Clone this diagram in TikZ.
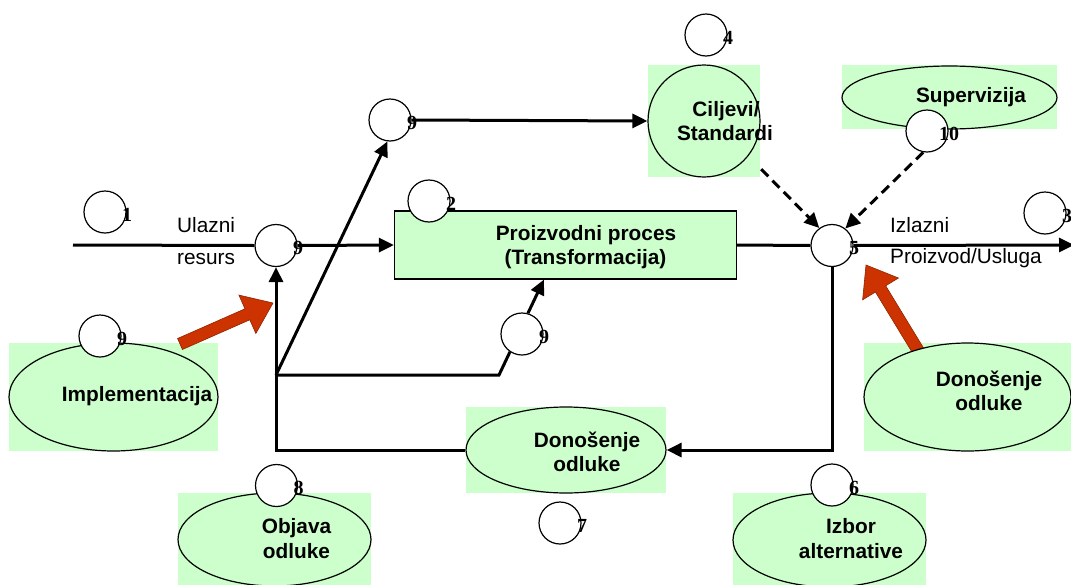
\documentclass[tikz,border=0pt]{standalone}
\usepackage{fontspec}
\setmainfont{Liberation Sans}
\newfontfamily\numfont{Liberation Serif}
\usetikzlibrary{arrows.meta,calc,shapes.geometric}
\definecolor{lgreen}{HTML}{CCFFCC}
\definecolor{arrowred}{HTML}{CC3300}
\begin{document}
\begin{tikzpicture}[x=1pt,y=-1pt,
  flow/.style={line width=3pt, draw=black},
  arr/.style={flow, -{Triangle[length=15pt,width=14pt]}},
  dasharr/.style={arr, dash pattern=on 10pt off 6pt},
  numc/.style={circle, draw=black, line width=1.2pt, fill=white, minimum size=42pt, inner sep=0pt},
  num/.style={font=\numfont\bfseries\fontsize{20}{20}\selectfont, inner sep=0pt},
  greenbg/.style={fill=lgreen, draw=none, inner sep=0pt},
  ell/.style={ellipse, fill=lgreen, draw=black, line width=1.2pt, inner sep=0pt},
  lbl/.style={font=\fontsize{20.8}{24}\selectfont, inner sep=0pt},
  blbl/.style={font=\bfseries\fontsize{20.8}{24}\selectfont, inner sep=0pt, anchor=base},
  redarrow/.style={fill=arrowred, draw=arrowred!70!black, line width=0.6pt},
]
\useasboundingbox (0,0) rectangle (1071,584);

% green backgrounds
\node[greenbg, minimum width=209pt, minimum height=108pt] (impbg) at (113.5,397) {};
\node[greenbg, minimum width=193pt, minimum height=94pt] (objbg) at (274.5,540) {};
\node[greenbg, minimum width=193pt, minimum height=94pt] (izbbg) at (829.5,540) {};
\node[greenbg, minimum width=200pt, minimum height=86pt] (don2bg) at (566,450) {};
\node[greenbg, minimum width=207pt, minimum height=108pt] (don3bg) at (967.5,397) {};
\node[greenbg, minimum width=215pt, minimum height=64pt] (supbg) at (949.5,97) {};
\node[greenbg, minimum width=112pt, minimum height=112pt] (cilbg) at (704,121) {};

% red arrows (below ellipses)
\coordinate (ra1) at (180,344);
\coordinate (ra2) at (273,303);
\coordinate (rh1) at ($(ra2)!28pt!(ra1)$);
\filldraw[redarrow] ($(ra1)!6pt!90:(ra2)$) -- ($(rh1)!6pt!90:(ra2)$) -- ($(rh1)!21pt!90:(ra2)$) -- (ra2) -- ($(rh1)!21pt!-90:(ra2)$) -- ($(rh1)!6pt!-90:(ra2)$) -- ($(ra1)!6pt!-90:(ra2)$) -- cycle;
\coordinate (rb1) at (922,357);
\coordinate (rb2) at (866,265);
\coordinate (rh2) at ($(rb2)!28pt!(rb1)$);
\filldraw[redarrow] ($(rb1)!6pt!90:(rb2)$) -- ($(rh2)!6pt!90:(rb2)$) -- ($(rh2)!21pt!90:(rb2)$) -- (rb2) -- ($(rh2)!21pt!-90:(rb2)$) -- ($(rh2)!6pt!-90:(rb2)$) -- ($(rb1)!6pt!-90:(rb2)$) -- cycle;

% ellipses and shapes
\node[ell, minimum width=209pt, minimum height=108pt] (imp) at (113.5,397) {};
\node[ell, minimum width=193pt, minimum height=93pt] (obj) at (274.5,539.5) {};
\node[ell, minimum width=193pt, minimum height=94pt] (izb) at (829.5,540) {};
\node[ell, minimum width=200pt, minimum height=86pt] (don2) at (566,450) {};
\node[ell, minimum width=207pt, minimum height=108pt] (don3) at (967.5,397) {};
\node[ell, minimum width=215pt, minimum height=63pt] (sup) at (949.5,97.5) {};
\node[circle, fill=lgreen, draw=black, line width=1.2pt, minimum size=112pt, inner sep=0pt] (cil) at (704,121) {};
\node[rectangle, fill=lgreen, draw=black, line width=1.2pt, minimum width=342pt, minimum height=68pt, inner sep=0pt] (box) at (565.5,245) {};

% numbered circles
\node[numc] (c1) at (105,212) {};
\node[numc] (c9a) at (276,245.5) {};
\node[numc] (c2) at (429,201) {};
\node[numc] (c9t) at (390,120) {};
\node[numc] (c4) at (706,35) {};
\node[numc] (c10) at (927,131) {};
\node[numc] (c5) at (832,245.5) {};
\node[numc] (c3) at (1045,213) {};
\node[numc] (c9i) at (100,336) {};
\node[numc] (c9l) at (522,334) {};
\node[numc] (c8) at (276.5,485.5) {};
\node[numc] (c7) at (560,523) {};
\node[numc] (c6) at (832,485) {};

% connectors
\coordinate (in) at (73,245);
\coordinate (out) at (1074,245);
\coordinate (J) at (276,375);
\coordinate (K) at (499,375);
\draw[flow] (in) -- (c9a.west);
\draw[arr] (c9a.east) -- (box.west);
\draw[flow] (box.east) -- (c5.west);
\draw[arr] (c5.east) -- (out);
\draw[arr] (c5.south) |- (don2.east);
\draw[arr] (don2.west) -| (c9a.south);
\draw[arr] (J) -- (c9t.-97);
\draw[flow] (J) -- (K) -- (c9l.-124);
\draw[arr] (c9l.74) -- ($(box.south west)+(150,0)$);
\draw[arr] (c9t.east) -- (cil.west);
\draw[dasharr] ($(cilbg.south east)+(1,-8)$) -- (c5.126);
\draw[dasharr] (c10.-100) -- (c5.52);

% circle numbers
\node[num] (n1) at ($(c1)+(22,2.5)$) {1};
\node[num] (n9a) at ($(c9a)+(22,2.5)$) {9};
\node[num] (n2) at ($(c2)+(22,2.5)$) {2};
\node[num] (n9t) at ($(c9t)+(22,2.5)$) {9};
\node[num] (n4) at ($(c4)+(22,2.5)$) {4};
\node[num] (n10) at ($(c10)+(22,2.5)$) {10};
\node[num] (n5) at ($(c5)+(22,2.5)$) {5};
\node[num] (n3) at ($(c3)+(22,2.5)$) {3};
\node[num] (n9i) at ($(c9i)+(22,2.5)$) {9};
\node[num] (n9l) at ($(c9l)+(22,2.5)$) {9};
\node[num] (n8) at ($(c8)+(22,2.5)$) {8};
\node[num] (n7) at ($(c7)+(22,2.5)$) {7};
\node[num] (n6) at ($(c6)+(22,2.5)$) {6};

% plain labels
\node[lbl, anchor=base west] (tul) at (177,232) {Ulazni};
\node[lbl, anchor=base west] (tres) at (177,264) {resurs};
\node[lbl, anchor=base west] (tiz) at (890,232.5) {Izlazni};
\node[lbl, anchor=base west] (tpro) at (890,263) {Proizvod/Usluga};

% bold labels
\node[blbl] (tb1) at (586,240) {Proizvodni proces};
\node[blbl] (tb2) at (585.5,264) {(Transformacija)};
\node[blbl] (tc1) at (726,116.5) {Ciljevi/};
\node[blbl] (tc2) at (725,140.5) {Standardi};
\node[blbl] (tsup) at (971,102) {Supervizija};
\node[blbl] (timp) at (137,401) {Implementacija};
\node[blbl] (td2a) at (587,447) {Donošenje};
\node[blbl] (td2b) at (587,471) {odluke};
\node[blbl] (td3a) at (989,386) {Donošenje};
\node[blbl] (td3b) at (989,410.5) {odluke};
\node[blbl] (tiza) at (851,533) {Izbor};
\node[blbl] (tizb) at (851,558) {alternative};
\node[blbl] (toba) at (296.5,533) {Objava};
\node[blbl] (tobb) at (296.5,558) {odluke};
\end{tikzpicture}
\end{document}
